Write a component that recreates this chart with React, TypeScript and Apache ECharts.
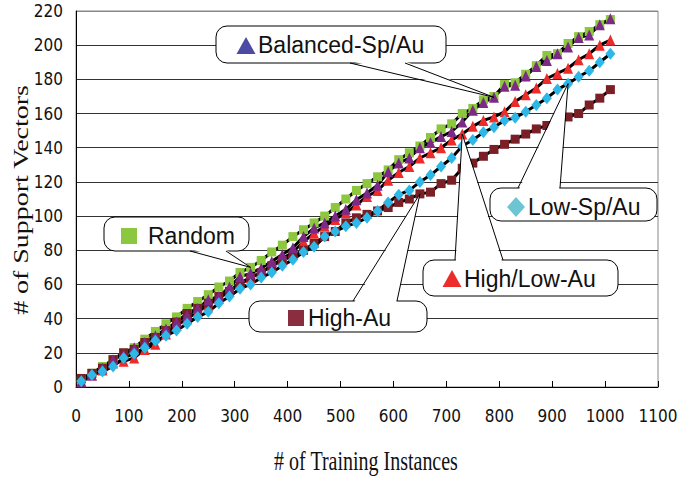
import React, { useEffect, useRef } from "react";
import * as echarts from "echarts";

// Training-set sizes at which the support vectors were counted
const trainingInstances = [
  10, 30, 50, 70, 90, 110, 130, 150, 170, 190, 210, 230, 250, 270, 290, 310, 330,
  350, 370, 390, 410, 430, 450, 470, 490, 510, 530, 550, 570, 590, 610, 630, 650,
  670, 690, 710, 730, 750, 770, 790, 810, 830, 850, 870, 890, 910, 930, 950, 970,
  990, 1010,
];

// Number of support vectors per sampling strategy
const randomSv = [
  4, 8, 12, 16, 20, 23, 28, 32.5, 37, 41, 46, 50, 54, 58.5, 62, 67, 70, 74, 79, 83,
  88, 92, 96, 100, 105, 110, 115, 119, 123, 127, 133, 137, 141, 146, 151, 154, 160,
  163, 168, 170, 177, 178, 183, 188, 194, 195, 201, 205, 208, 212, 215,
];
const highLowAuSv = [
  3, 7, 10, 14, 15, 17, 22, 25, 31, 36, 40, 44, 48, 52, 56, 61, 64, 67, 71, 75, 79,
  85, 90, 94, 98, 102, 106.5, 111.5, 115, 121, 125.5, 129, 134, 137, 140, 144.5, 148,
  152.5, 156, 158, 161, 167, 171, 175, 180.5, 183.5, 186.5, 191.5, 195, 200, 203,
];
const highAuSv = [
  5, 8, 11, 16, 20, 22, 26, 29, 33, 38, 43, 46, 49, 53, 56, 60, 64, 67, 71, 74, 77,
  80, 84, 88, 91, 96, 99, 101, 103, 105, 108, 110, 113, 114, 119, 121, 128, 131, 135,
  139, 142, 145, 148, 151, 153, 156, 158, 160, 165, 169, 174,
];
const balancedSpAuSv = [
  3, 7, 11, 16, 19, 23, 26, 30, 34, 38, 42, 46, 51, 53, 58.5, 64.5, 66.5, 69.5, 73.5,
  77.5, 81.5, 88, 93, 96, 100, 104, 109.5, 113.5, 118, 126, 131, 134, 140, 143, 146.5,
  149.5, 155, 162, 166.5, 169.5, 176, 176.5, 182, 187.5, 191, 195, 199, 204.5, 206,
  212, 215.5,
];
const lowSpAuSv = [
  3.4, 7, 9, 12, 17, 19.5, 23, 27, 30, 33, 37, 41, 44, 49, 53, 57.5, 60, 64, 67, 71,
  74.5, 79, 82, 88, 91, 94, 96, 99, 103, 108, 112.5, 115, 120, 124, 129, 134, 141,
  144.5, 149, 152, 156, 157.5, 161, 165, 169, 174, 177.5, 181.5, 185, 190, 195,
];

const xTicks = { min: 0, max: 1100, interval: 100 };
const yTicks = { min: 0, max: 220, interval: 20 };

type Pt = [number, number];

export default function App() {
  const ref = useRef<HTMLDivElement>(null);

  useEffect(() => {
    const chart = echarts.init(ref.current!, null, { renderer: "svg" });

    const line = (
      name: string,
      values: number[],
      symbol: string,
      size: number | number[],
      color: string
    ) => ({
      name,
      type: "line",
      data: trainingInstances.map((x, i) => [x, values[i]]),
      symbol,
      symbolSize: size,
      showSymbol: true,
      lineStyle: { color: "#000", width: 3 },
      itemStyle: { color, borderWidth: 0 },
      emphasis: { disabled: true },
    });

    const gridLineColors = Array.from({ length: 12 }, (_, i) => (i === 11 ? "#888" : "#333"));
    const tickFont =
      '"Liberation Sans Narrow", "DejaVu Sans Condensed", "Liberation Sans", sans-serif';

    chart.setOption({
      animation: false,
      backgroundColor: "#fff",
      grid: {
        left: 76,
        right: 35,
        top: 11,
        bottom: 90,
        show: true,
        borderColor: "#888",
        borderWidth: 1,
      },
      xAxis: {
        type: "value",
        ...xTicks,
        axisLine: { show: true, lineStyle: { color: "#000", width: 1 } },
        axisTick: { show: true, inside: true, length: 6, lineStyle: { color: "#000" } },
        splitLine: { show: false },
        axisLabel: {
          color: "#111",
          fontSize: 17,
          fontFamily: tickFont,
          margin: 20,
          formatter: (v: number) => String(v),
        },
      },
      yAxis: {
        type: "value",
        ...yTicks,
        axisLine: { show: true, lineStyle: { color: "#000", width: 1 } },
        axisTick: { show: false },
        splitLine: { show: true, lineStyle: { color: gridLineColors, width: 1 } },
        axisLabel: {
          color: "#111",
          fontSize: 17,
          fontFamily: tickFont,
          margin: 13,
          formatter: (v: number) => String(v),
        },
      },
      series: [
        line("Random", randomSv, "rect", [9, 9], "#8DC63F"),
        line("High/Low-Au", highLowAuSv, "triangle", [10, 11], "#EE2B2B"),
        line("High-Au", highAuSv, "rect", [9, 9], "#7B1F27"),
        line("Balanced-Sp/Au", balancedSpAuSv, "triangle", [10, 11], "#7D2A87"),
        line("Low-Sp/Au", lowSpAuSv, "diamond", [10, 12], "#2DB8E8"),
      ],
    });

    const px = (xv: number, yv: number) =>
      chart.convertToPixel({ gridIndex: 0 }, [xv, yv]) as number[];

    const at = (values: number[], x: number): Pt => {
      const i = trainingInstances.indexOf(x);
      const p = px(x, values[i]);
      return [p[0], p[1]];
    };

    const font = '"Liberation Sans", Arial, sans-serif';

    const markerShape = (kind: string, cx: number, cy: number, color: string) => {
      if (kind === "square") {
        return {
          type: "rect",
          z: 103,
          shape: { x: cx - 8, y: cy - 8, width: 16, height: 16 },
          style: { fill: color },
        };
      }
      if (kind === "triangle") {
        return {
          type: "polygon",
          z: 103,
          shape: { points: [[cx, cy - 9], [cx + 9.5, cy + 8], [cx - 9.5, cy + 8]] },
          style: { fill: color },
        };
      }
      return {
        type: "polygon",
        z: 103,
        shape: { points: [[cx, cy - 10], [cx + 9, cy], [cx, cy + 10], [cx - 9, cy]] },
        style: { fill: color },
      };
    };

    const callout = (
      box: { x: number; y: number; w: number; h: number },
      base: [number, number],
      side: "top" | "bottom",
      tip: Pt,
      marker: { kind: string; cx: number; cy: number; color: string },
      label: string,
      textX: number,
      textY: number
    ) => {
      const edgeY = side === "top" ? box.y : box.y + box.h;
      const inward = side === "top" ? 2 : -2;
      return [
        {
          type: "rect",
          z: 100,
          shape: { x: box.x, y: box.y, width: box.w, height: box.h, r: 11 },
          style: { fill: "#fff", stroke: "#000", lineWidth: 1 },
        },
        {
          type: "polygon",
          z: 101,
          shape: {
            points: [
              [base[0] + 0.8, edgeY + inward],
              tip,
              [base[1] - 0.8, edgeY + inward],
            ],
          },
          style: { fill: "#fff", stroke: null },
        },
        {
          type: "polyline",
          z: 102,
          shape: { points: [[base[0], edgeY], tip, [base[1], edgeY]] },
          style: { stroke: "#000", lineWidth: 1, fill: null },
        },
        markerShape(marker.kind, marker.cx, marker.cy, marker.color),
        {
          type: "text",
          z: 103,
          x: textX,
          y: textY,
          style: {
            text: label,
            fontSize: 23,
            fontFamily: font,
            fill: "#111",
            align: "left",
            verticalAlign: "middle",
          },
        },
      ];
    };

    chart.setOption({
      graphic: [
        ...callout(
          { x: 216, y: 26, w: 230, h: 37 },
          [350, 405],
          "bottom",
          at(balancedSpAuSv, 790),
          { kind: "triangle", cx: 246, cy: 46, color: "#4B4BA3" },
          "Balanced-Sp/Au",
          258,
          45
        ),
        ...callout(
          { x: 104, y: 217, w: 145, h: 34 },
          [190, 226],
          "bottom",
          at(randomSv, 330),
          { kind: "square", cx: 129, cy: 236, color: "#8DC63F" },
          "Random",
          148,
          236
        ),
        ...callout(
          { x: 249, y: 301, w: 178, h: 31 },
          [353, 397],
          "top",
          at(highAuSv, 650),
          { kind: "square", cx: 296, cy: 318, color: "#8A2D3E" },
          "High-Au",
          308,
          318
        ),
        ...callout(
          { x: 423, y: 260, w: 195, h: 36 },
          [455, 503],
          "top",
          at(highLowAuSv, 730),
          { kind: "triangle", cx: 452, cy: 279, color: "#EE2B2B" },
          "High/Low-Au",
          464,
          279
        ),
        ...callout(
          { x: 490, y: 188, w: 167, h: 33 },
          [518, 560],
          "top",
          at(lowSpAuSv, 930),
          { kind: "diamond", cx: 516, cy: 207, color: "#6CC5D2" },
          "Low-Sp/Au",
          528,
          207
        ),
        {
          type: "text",
          z: 110,
          x: 366,
          y: 461,
          scaleY: 1.36,
          style: {
            text: "# of Training Instances",
            fontSize: 20,
            fontFamily: '"Liberation Serif", "Times New Roman", serif',
            fill: "#111",
            align: "center",
            verticalAlign: "middle",
          },
        },
        {
          type: "text",
          z: 110,
          x: 21,
          y: 200,
          rotation: Math.PI / 2,
          scaleX: 1.33,
          style: {
            text: "# of Support Vectors",
            fontSize: 21,
            fontFamily: '"Liberation Serif", "Times New Roman", serif',
            fill: "#111",
            align: "center",
            verticalAlign: "middle",
          },
        },
      ],
    });

    return () => chart.dispose();
  }, []);

  return (
    <div
      ref={ref}
      style={{ position: "fixed", left: 0, top: 0, width: 693, height: 477, background: "#fff" }}
    />
  );
}
